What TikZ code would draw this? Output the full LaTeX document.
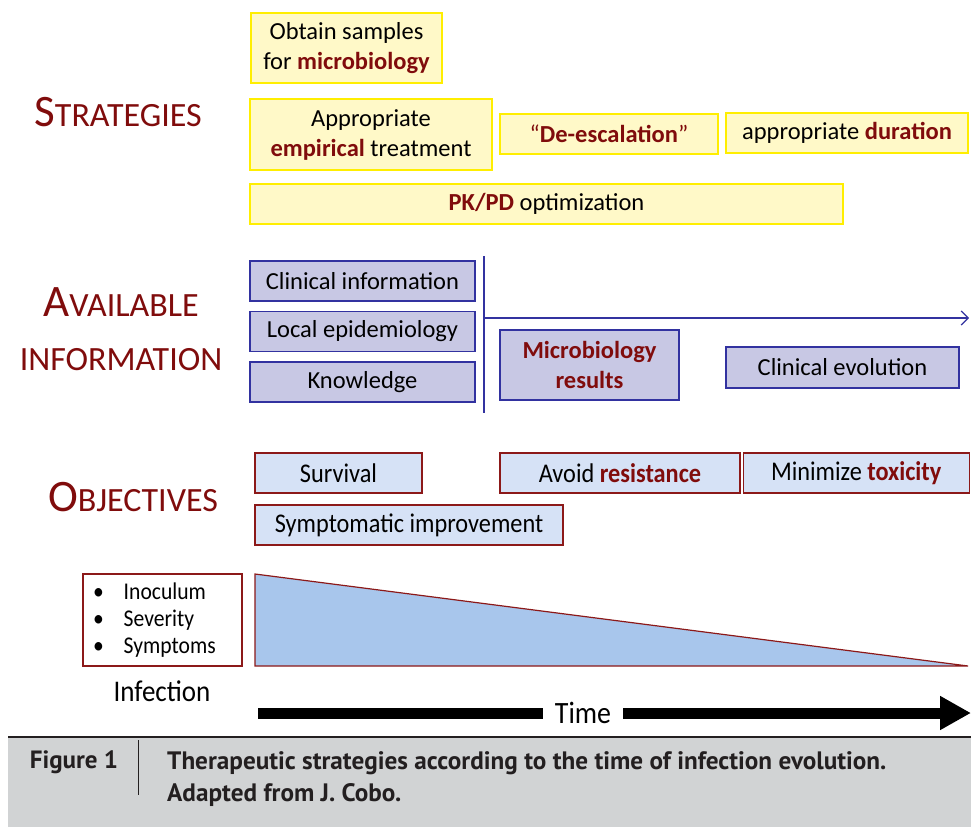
\documentclass[tikz,border=0pt]{standalone}
\usepackage{fontspec}
\setmainfont{Carlito}
\newfontfamily\narrowfont{Carlito}[FakeStretch=0.9]
\newfontfamily\capfont{PT Sans}
\usetikzlibrary{positioning,arrows.meta}

\definecolor{maroon}{RGB}{128,12,12}
\definecolor{stratfill}{RGB}{255,249,200}
\definecolor{stratline}{RGB}{255,238,0}
\definecolor{infofill}{RGB}{200,200,228}
\definecolor{infoline}{RGB}{50,50,160}
\definecolor{goalfill}{RGB}{214,226,246}
\definecolor{goalline}{RGB}{140,25,25}
\definecolor{wedgefill}{RGB}{168,198,236}
\definecolor{capgrey}{RGB}{209,211,212}
\definecolor{captext}{RGB}{35,31,32}

\newcommand{\keyword}[1]{\textcolor{maroon}{\textbf{#1}}}
\newcommand{\capshead}[2]{{\fontsize{45}{45}\selectfont #1}#2}

\begin{document}
\begin{tikzpicture}[x=1pt,y=-1pt,node distance=9pt,
	strat/.style={draw=stratline,fill=stratfill,line width=1.5pt,inner sep=0pt,align=center,font=\fontsize{24.5}{30}\selectfont},
	info/.style={draw=infoline,fill=infofill,line width=1.5pt,inner sep=0pt,align=center,font=\fontsize{24.5}{30}\selectfont},
	goal/.style={draw=goalline,fill=goalfill,line width=1.2pt,inner sep=0pt,minimum height=40pt,font=\narrowfont\fontsize{27}{30}\selectfont},
	head/.style={text=maroon,align=center,font=\fontsize{34}{54}\selectfont}]
	\useasboundingbox (0,0) rectangle (971,827);
	% strategies
	\node[head](strathead) at (118,112) {\capshead{S}{TRATEGIES}};
	\node[strat,minimum width=191pt,minimum height=70pt](obtain) at (346.5,48) {Obtain samples\\for \keyword{microbiology}};
	\node[strat,minimum width=242pt,minimum height=71pt](empirical) at (371,134.5) {Appropriate\\\keyword{empirical} treatment};
	\node[strat,minimum width=218pt,minimum height=40pt](descal) at (609,134) {\textcolor{maroon}{“}\keyword{De-escalation}\textcolor{maroon}{”}};
	\node[strat,minimum width=242pt,minimum height=40pt](duration) at (847,133) {appropriate \keyword{duration}};
	\node[strat,minimum width=593pt,minimum height=40pt](pkpd) at (546.5,204) {\keyword{PK/PD} optimization};
	% available information
	\node[head](infohead) at (121,329) {\capshead{A}{VAILABLE}\\INFORMATION};
	\node[info,minimum width=225pt,minimum height=40pt](clin) at (362.5,281) {Clinical information};
	\node[info,minimum width=225pt,minimum height=40pt](epi)[below=of clin] {Local epidemiology};
	\node[info,minimum width=225pt,minimum height=40pt](know)[below=of epi] {Knowledge};
	\node[info,minimum width=179pt,minimum height=70pt](micro) at (589.5,365) {\keyword{Microbiology}\\\keyword{results}};
	\node[info,minimum width=233pt,minimum height=41pt](evol) at (842.5,367.5) {Clinical evolution};
	\coordinate (vtop) at (484,256);
	\coordinate (vbot) at (484,413);
	\coordinate (hstart) at (484,318);
	\coordinate (hend) at (969,318);
	\draw[infoline,line width=1.5pt] (vtop) -- (vbot);
	\draw[infoline,line width=1.2pt,-{Straight Barb[length=7pt,width=14pt]}] (hstart) -- (hend);
	% objectives
	\node[head](objhead) at (133,497) {\capshead{O}{BJECTIVES}};
	\node[goal,minimum width=167pt](surv) at (338.5,473) {Survival};
	\node[goal,minimum width=240pt](resist) at (620,473) {Avoid \keyword{resistance}};
	\node[goal,minimum width=226pt](toxic)[right=2pt of resist] {Minimize \keyword{toxicity}};
	\node[goal,minimum width=308pt](symp) at (409,525) {Symptomatic improvement};
	% infection and time
	\node[draw=goalline,fill=white,line width=1.2pt,minimum width=159pt,minimum height=92pt,text width=139pt,inner sep=0pt,align=left,font=\narrowfont\fontsize{24}{27}\selectfont](factors) at (162.5,620) {\textbullet\hspace{20pt}Inoculum\\\textbullet\hspace{20pt}Severity\\\textbullet\hspace{20pt}Symptoms};
	\coordinate (wtop) at (255,574);
	\coordinate (wcorner) at (255,666);
	\coordinate (wtip) at (968,666);
	\draw[goalline,fill=wedgefill,line width=1.2pt] (wtop) -- (wcorner) -- (wtip) -- cycle;
	\node[font=\narrowfont\fontsize{30}{30}\selectfont](infection) at (162,691) {Infection};
	\coordinate (tstart) at (258,713);
	\coordinate (tend) at (971,713);
	\draw[line width=11pt,-{Triangle[length=31pt,width=32pt]}] (tstart) -- (tend);
	\node[fill=white,inner xsep=12pt,inner ysep=2pt,font=\narrowfont\fontsize{31}{31}\selectfont](time) at (583,713) {Time};
	% caption
	\fill[capgrey] (8,738) rectangle (971,827);
	\draw[captext,line width=2pt] (8,737) -- (971,737);
	\coordinate (rtop) at (138,740);
	\coordinate (rbot) at (138,795);
	\draw[captext,line width=0.8pt] (rtop) -- (rbot);
	\node[text=captext,font=\capfont\bfseries\fontsize{25}{32}\selectfont](figlab) at (74,762) {Figure 1};
	\node[text=captext,anchor=west,align=left,inner sep=0pt,font=\capfont\bfseries\fontsize{25.2}{32}\selectfont](caption) at (167,779) {Therapeutic strategies according to the time of infection evolution.\\Adapted from J. Cobo.};
\end{tikzpicture}
\end{document}
